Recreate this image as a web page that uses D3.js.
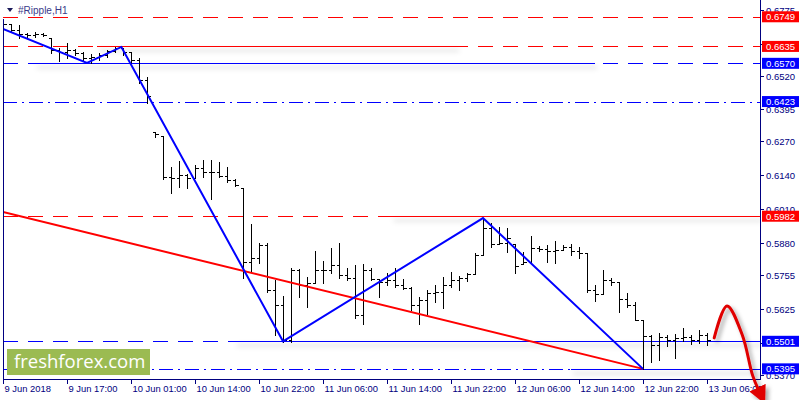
<!DOCTYPE html>
<html><head><meta charset="utf-8">
<script src="https://cdn.jsdelivr.net/npm/d3@7/dist/d3.min.js"></script>
<style>body{margin:0;background:#fff}svg{display:block}text{font-family:"Liberation Sans",Arial,sans-serif}</style>
</head><body><svg id="c" width="800" height="400"></svg>
<script>
// ---------- data ----------
const timeTickIdx = [0,8,16,24,32,40,48,56,64,72,80,88];
const timeTickLabels = ["9 Jun 2018","9 Jun 17:00","10 Jun 01:00","10 Jun 14:00","10 Jun 22:00","11 Jun 06:00","11 Jun 14:00","11 Jun 22:00","12 Jun 06:00","12 Jun 14:00","12 Jun 22:00","13 Jun 06:00"];
const priceTicks = [0.6775,0.6645,0.6520,0.6395,0.6270,0.6140,0.6010,0.5880,0.5755,0.5625,0.5495,0.5370];
// tick labels fully covered by level boxes in the reference (mark kept, text not drawn)
const hiddenTickLabels = [0.6645,0.5495];

const opens = [0.6728,0.6721,0.6698,0.6682,0.6678,0.6682,0.6667,0.6621,0.6613,0.6621,
0.6609,0.6590,0.6594,0.6602,0.6617,0.6629,0.6613,0.6582,0.6506,0.6307,
0.6291,0.6133,0.6129,0.6140,0.6129,0.6167,0.6152,0.6152,0.6137,0.6121,
0.6092,0.5806,0.5821,0.5871,0.5698,0.5641,0.5506,0.5775,0.5718,0.5725,
0.5775,0.5775,0.5795,0.5756,0.5745,0.5602,0.5775,0.5741,0.5729,0.5737,
0.5718,0.5706,0.5641,0.5660,0.5687,0.5691,0.5718,0.5737,0.5745,0.5760,
0.5833,0.5937,0.5875,0.5879,0.5874,0.5797,0.5806,0.5860,0.5856,0.5848,
0.5852,0.5864,0.5848,0.5841,0.5698,0.5683,0.5737,0.5729,0.5664,0.5641,
0.5583,0.5522,0.5487,0.5518,0.5506,0.5513,0.5518,0.5506,0.5526];
const highs = [0.6733,0.6722,0.6717,0.6686,0.6689,0.6685,0.6667,0.6629,0.6648,0.6625,
0.6613,0.6605,0.6609,0.6621,0.6632,0.6629,0.6613,0.6590,0.6517,0.6307,
0.6291,0.6171,0.6194,0.6144,0.6179,0.6198,0.6198,0.6192,0.6171,0.6125,
0.6092,0.5952,0.5879,0.5879,0.5737,0.5677,0.5784,0.5779,0.5750,0.5848,
0.5810,0.5859,0.5880,0.5782,0.5795,0.5797,0.5784,0.5741,0.5765,0.5782,
0.5741,0.5709,0.5673,0.5698,0.5718,0.5750,0.5766,0.5752,0.5765,0.5840,
0.5971,0.5955,0.5942,0.5936,0.5874,0.5846,0.5906,0.5868,0.5871,0.5887,
0.5871,0.5874,0.5863,0.5840,0.5718,0.5775,0.5743,0.5730,0.5686,0.5654,
0.5583,0.5526,0.5534,0.5526,0.5528,0.5551,0.5526,0.5545,0.5532];
const lows = [0.6717,0.6689,0.6668,0.6672,0.6672,0.6675,0.6608,0.6579,0.6590,0.6602,
0.6579,0.6571,0.6582,0.6594,0.6613,0.6602,0.6571,0.6494,0.6417,0.6288,
0.6125,0.6071,0.6096,0.6090,0.6129,0.6133,0.6048,0.6133,0.6115,0.6098,
0.5746,0.5771,0.5803,0.5692,0.5526,0.5500,0.5500,0.5673,0.5634,0.5727,
0.5724,0.5765,0.5746,0.5737,0.5590,0.5567,0.5737,0.5673,0.5718,0.5711,
0.5701,0.5622,0.5567,0.5605,0.5654,0.5628,0.5711,0.5698,0.5733,0.5759,
0.5833,0.5863,0.5874,0.5846,0.5763,0.5797,0.5801,0.5848,0.5807,0.5803,
0.5852,0.5833,0.5820,0.5690,0.5657,0.5683,0.5718,0.5615,0.5632,0.5581,
0.5395,0.5423,0.5429,0.5481,0.5436,0.5504,0.5490,0.5494,0.5487];
const closes = [0.6721,0.6698,0.6682,0.6678,0.6682,0.6678,0.6621,0.6613,0.6621,0.6609,
0.6590,0.6594,0.6602,0.6617,0.6629,0.6613,0.6582,0.6506,0.6444,0.6298,
0.6133,0.6129,0.6140,0.6129,0.6167,0.6152,0.6152,0.6137,0.6121,0.6102,
0.5806,0.5821,0.5871,0.5698,0.5641,0.5506,0.5775,0.5718,0.5725,0.5775,
0.5775,0.5795,0.5756,0.5745,0.5602,0.5775,0.5741,0.5729,0.5737,0.5718,
0.5706,0.5641,0.5660,0.5687,0.5691,0.5718,0.5737,0.5745,0.5760,0.5833,
0.5937,0.5875,0.5879,0.5898,0.5791,0.5806,0.5860,0.5856,0.5848,0.5852,
0.5864,0.5848,0.5841,0.5698,0.5683,0.5737,0.5729,0.5664,0.5641,0.5583,
0.5522,0.5487,0.5518,0.5506,0.5513,0.5518,0.5506,0.5526,0.5506];

// horizontal levels
const levelPrices = [0.6749,0.6635,0.6570,0.6423,0.5982,0.5501,0.5395];
const levelKinds  = ["red-dash","red-dash","blue-dash","blue-dashdot","red-dash","blue-dash","blue-dashdot"];
// solid level segments (bar index from/to)
const segPrices = [0.6635,0.6570,0.5982,0.5501,0.5395];
const segFrom   = [11.75,4,48.6,29,71];
const segTo     = [56.75,74,94.6,94.6,94.6];
const segKinds  = ["red","blue","red","blue","blue"];
// zigzag
const zigIdx   = [0,10.5,14.8,35,60,80];
const zigPrice = [0.6702,0.6572,0.6633,0.5501,0.5975,0.5395];
// trend line
const trendIdx   = [0,80];
const trendPrice = [0.5998,0.5395];
// forecast arrow
const arrowIdx   = [88.9,90.5,92.4,93.7,94.5];
const arrowPrice = [0.5514,0.5637,0.5526,0.5370,0.5310];

// ---------- drawing ----------
const svg = d3.select("#c");
const L=3, R=760, T=3, B=379;
const x = d3.scaleLinear().domain([0,94.5]).range([L,759]);
const y = d3.scaleLinear().domain([0.5356,0.6802]).range([B,T]);
const navy="#000080", RED="#ff0000", BLUE="#0000ff";

const defs = svg.append("defs");
const f = defs.append("filter").attr("id","sh").attr("filterUnits","userSpaceOnUse")
  .attr("x",0).attr("y",0).attr("width",800).attr("height",400);
f.append("feDropShadow").attr("dx",2).attr("dy",4).attr("stdDeviation",2.5).attr("flood-color","#000").attr("flood-opacity",0.3);
const fa = defs.append("filter").attr("id","sha").attr("filterUnits","userSpaceOnUse")
  .attr("x",0).attr("y",0).attr("width",800).attr("height",400);
fa.append("feDropShadow").attr("dx",3).attr("dy",3).attr("stdDeviation",2).attr("flood-color","#000").attr("flood-opacity",0.35);
defs.append("marker").attr("id","ah").attr("viewBox","0 0 10 10").attr("refX",2).attr("refY",5)
  .attr("markerWidth",6).attr("markerHeight",6).attr("orient","auto").attr("markerUnits","strokeWidth")
  .append("path").attr("d","M0,0 L10,5 L0,10 z").attr("fill","#e00000");
defs.append("clipPath").attr("id","clip").append("rect").attr("x",L).attr("y",0).attr("width",R-L).attr("height",B);

const plot = svg.append("g").attr("clip-path","url(#clip)");

// level lines
const dashMap = {"red-dash":[RED,"15,10"],"blue-dash":[BLUE,"15,10"],"blue-dashdot":[BLUE,"14,5,2,5"]};
levelPrices.forEach((p,i)=>{
  const k=dashMap[levelKinds[i]];
  const yy=Math.round(y(p))+0.5;
  plot.append("line").attr("x1",L).attr("x2",R).attr("y1",yy).attr("y2",yy)
    .attr("stroke",k[0]).attr("stroke-width",1).attr("stroke-dasharray",k[1]);
});
// solid segments with shadow
segPrices.forEach((p,i)=>{
  const yy=Math.round(y(p))+0.5;
  plot.append("line").attr("x1",x(segFrom[i])).attr("x2",x(segTo[i])).attr("y1",yy).attr("y2",yy)
    .attr("stroke",segKinds[i]==="red"?RED:BLUE).attr("stroke-width",1.2).attr("filter","url(#sh)");
});

// OHLC bars
const bars = plot.append("g").attr("stroke","#000").attr("stroke-width",1).attr("shape-rendering","crispEdges");
opens.forEach((o,i)=>{
  const cx=Math.round(x(i))+0.5;
  bars.append("line").attr("x1",cx).attr("x2",cx).attr("y1",y(highs[i])).attr("y2",y(lows[i])+1);
  bars.append("line").attr("x1",cx-3).attr("x2",cx).attr("y1",Math.round(y(o))+0.5).attr("y2",Math.round(y(o))+0.5);
  bars.append("line").attr("x1",cx).attr("x2",cx+3).attr("y1",Math.round(y(closes[i]))+0.5).attr("y2",Math.round(y(closes[i]))+0.5);
});

// trend line
plot.append("path").datum(trendIdx.map((d,i)=>[d,trendPrice[i]]))
  .attr("d",d3.line().x(d=>x(d[0])).y(d=>y(d[1]))).attr("fill","none").attr("stroke",RED).attr("stroke-width",2);
// zigzag
plot.append("path").datum(zigIdx.map((d,i)=>[d,zigPrice[i]]))
  .attr("d",d3.line().x(d=>x(d[0])).y(d=>y(d[1]))).attr("fill","none").attr("stroke",BLUE).attr("stroke-width",2);

// axes frame
svg.append("line").attr("x1",L+0.5).attr("x2",L+0.5).attr("y1",19).attr("y2",B).attr("stroke",navy);
svg.append("line").attr("x1",R+0.5).attr("x2",R+0.5).attr("y1",0).attr("y2",B+1).attr("stroke",navy);
svg.append("line").attr("x1",L).attr("x2",R+1).attr("y1",B+0.5).attr("y2",B+0.5).attr("stroke",navy);

// y ticks
const yt = svg.append("g");
priceTicks.forEach(p=>{
  const yy=Math.round(y(p))+0.5;
  yt.append("line").attr("x1",R).attr("x2",R+4).attr("y1",yy).attr("y2",yy).attr("stroke",navy);
  if(!hiddenTickLabels.includes(p))
    yt.append("text").attr("x",766).attr("y",yy).attr("dy","0.35em").attr("font-size",9.5).attr("fill",navy).text(p.toFixed(4));
});
// x ticks
const xt = svg.append("g");
timeTickIdx.forEach((t,i)=>{
  const xx=Math.round(x(t))+0.5;
  xt.append("line").attr("x1",xx).attr("x2",xx).attr("y1",B).attr("y2",B+5).attr("stroke",navy);
  xt.append("text").attr("x",xx+1).attr("y",392).attr("font-size",9.4).attr("fill",navy).text(timeTickLabels[i]);
});

// level labels
levelPrices.forEach((p,i)=>{
  const c = levelKinds[i].startsWith("red")?RED:BLUE;
  const yy=y(p);
  svg.append("rect").attr("x",762).attr("y",yy-5.5).attr("width",37).attr("height",11).attr("fill",c);
  svg.append("text").attr("x",766).attr("y",yy).attr("dy","0.36em").attr("font-size",9.5).attr("fill","#fff").text(p.toFixed(4));
});

// forecast arrow
svg.append("path").datum(arrowIdx.map((d,i)=>[d,arrowPrice[i]]))
  .attr("d",d3.line().curve(d3.curveCatmullRom).x(d=>x(d[0])).y(d=>y(d[1])))
  .attr("fill","none").attr("stroke","#e00000").attr("stroke-width",3).attr("stroke-linecap","round")
  .attr("marker-end","url(#ah)").attr("filter","url(#sha)");

// title
svg.append("path").attr("d","M7,8 L13,8 L10,12 z").attr("fill","#1a1a5a");
svg.append("text").attr("x",18).attr("y",14).attr("font-size",10).attr("fill","#3a3a8a").text("#Ripple,H1");

// logo
svg.append("rect").attr("x",7).attr("y",349).attr("width",143).attr("height",26).attr("fill","#9bbb52");
svg.append("text").attr("x",14).attr("y",368).attr("font-size",18.5).attr("fill","#fff")
  .style("font-family","'Open Sans',sans-serif").text("freshforex.com");
</script></body></html>
